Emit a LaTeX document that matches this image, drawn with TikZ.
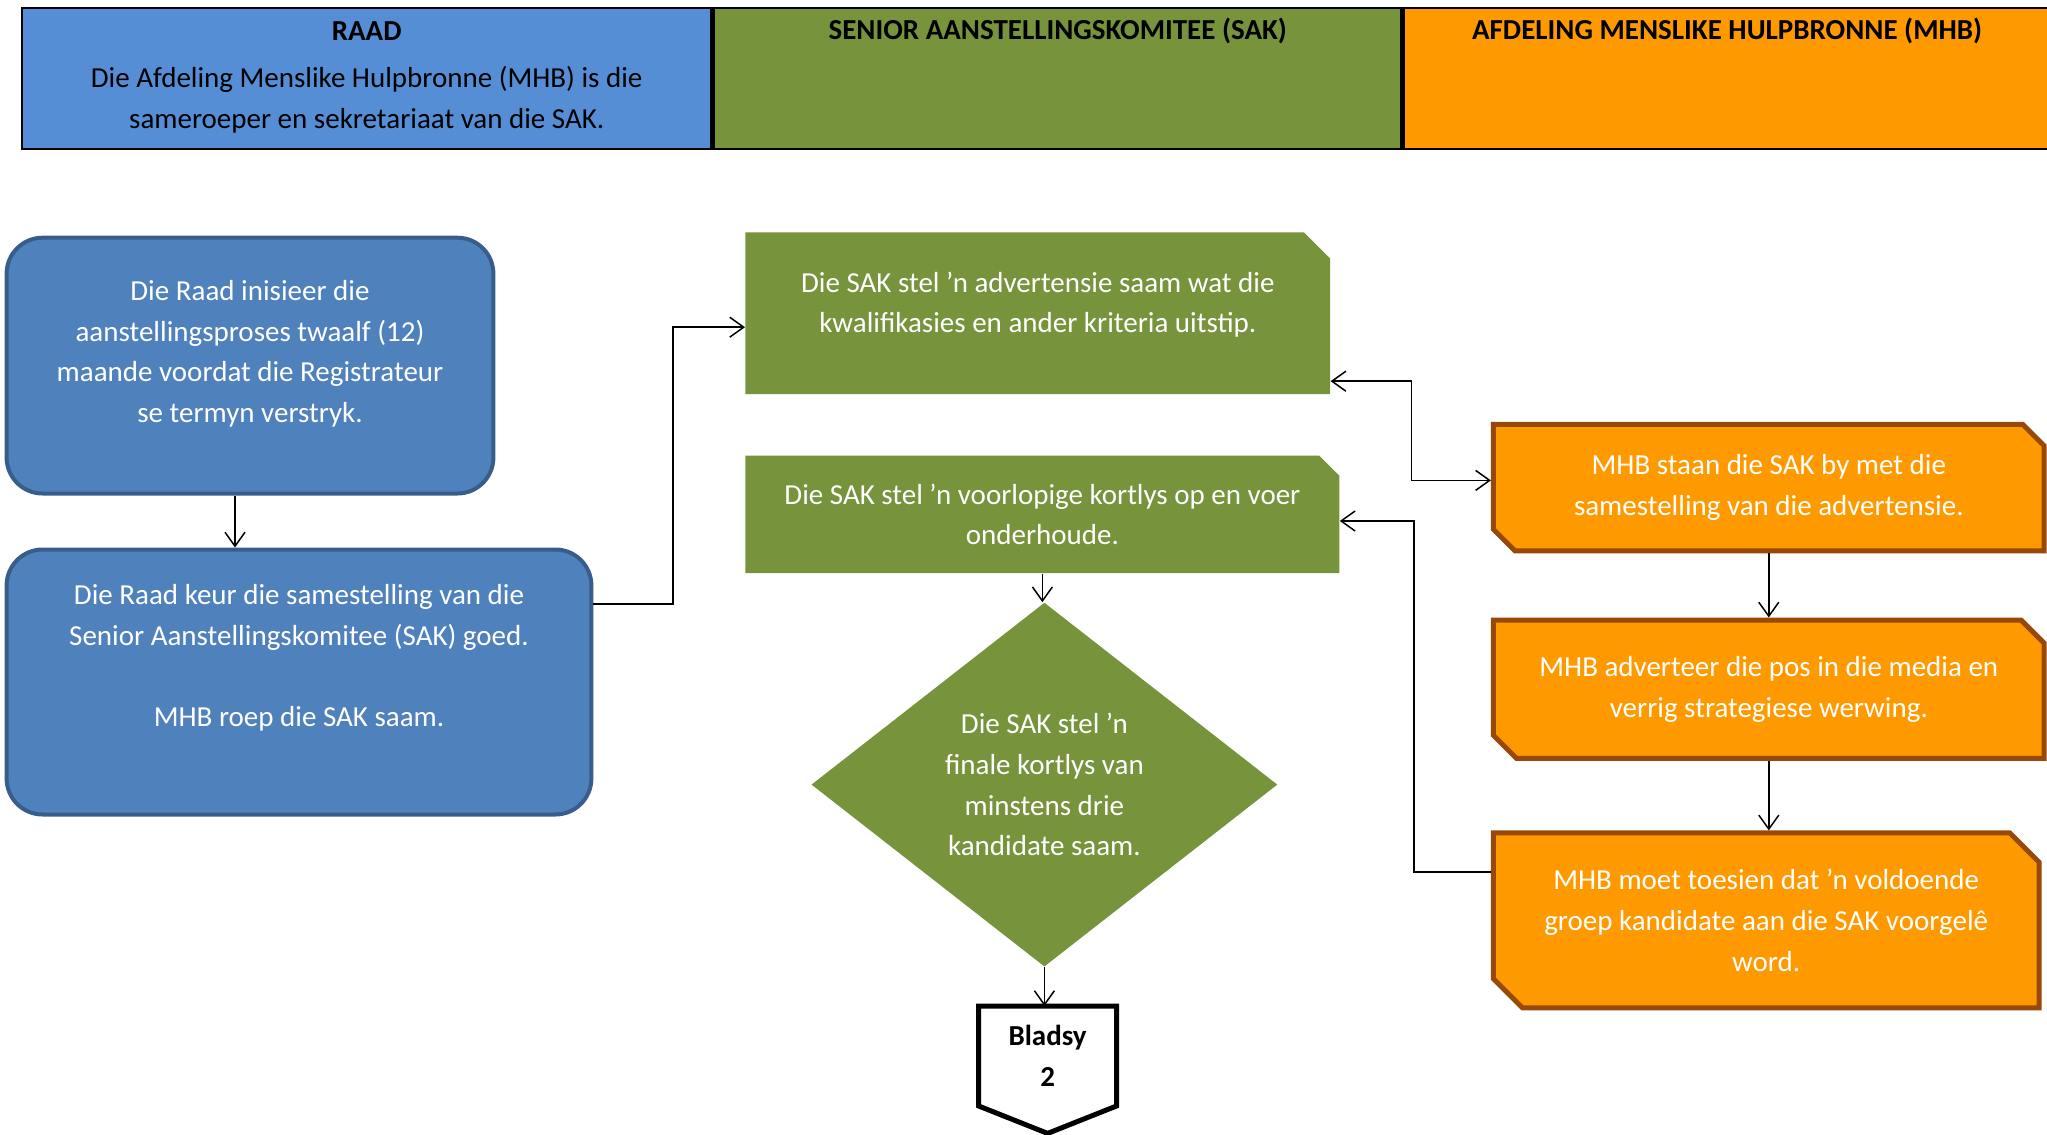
\documentclass[tikz,border=0pt]{standalone}
\usepackage{fontspec}
\setmainfont{Carlito}
\usetikzlibrary{shapes.misc,shapes.geometric,arrows.meta,positioning,calc}
\definecolor{hdblue}{HTML}{558ED5}
\definecolor{hdgreen}{HTML}{77933C}
\definecolor{hdorange}{HTML}{FF9900}
\definecolor{raadblue}{HTML}{4F81BD}
\definecolor{raadline}{HTML}{385D8A}
\definecolor{sakgreen}{HTML}{77933C}
\definecolor{mhborange}{HTML}{FF9900}
\definecolor{mhbline}{HTML}{984807}
\newcommand{\boxfont}{\fontsize{14.5}{20.3}\selectfont}
\tikzset{
    colhead/.style = {draw, line width=1.2pt, minimum height=70.5pt, inner sep=0pt, anchor=north west},
    hdtext/.style = {align=center, text=black, inner sep=0pt},
    raadbox/.style = {draw=raadline, fill=raadblue, line width=2pt,
        rounded corners=18pt, align=center, text=white, inner sep=0pt},
    sakbox/.style = {chamfered rectangle, chamfered rectangle corners=north east,
        fill=sakgreen, align=center, text=white, inner sep=0pt},
    mhbbox/.style = {chamfered rectangle, chamfered rectangle corners={north east,south west},
        draw=mhbline, fill=mhborange, line width=2.5pt, align=center, text=white, inner sep=0pt},
    besluit/.style = {diamond, aspect=1.28, fill=sakgreen, align=center, text=white, inner sep=0pt},
    bladsybox/.style = {rectangle, align=center, font=\boxfont\bfseries, inner sep=0pt},
    arrow/.style = {draw, line width=0.75pt, ->}
}
\begin{document}
\begin{tikzpicture}[x=1pt, y=1pt, every node/.style={font=\boxfont},
    >={Straight Barb[length=7pt,width=10pt]}]
    \useasboundingbox (0,0) rectangle (1023.5,-567.2);
    % header
    \node [colhead, fill=hdblue, minimum width=344.7pt] (hdraad) at (10.4,-3.3) {};
    \node [colhead, fill=hdgreen, minimum width=343.9pt] (hdsak) at (hdraad.north east) {};
    \node [colhead, fill=hdorange, minimum width=323.1pt] (hdmhb) at (hdsak.north east) {};
    \node [hdtext, font=\boxfont\bfseries] (raadtitle) at ([yshift=-12pt]hdraad.north) {RAAD};
    \node [hdtext] (raadtext) at ([yshift=-46.5pt]hdraad.north) {Die Afdeling Menslike Hulpbronne (MHB) is die\\sameroeper en sekretariaat van die SAK.};
    \node [hdtext, font=\boxfont\bfseries] (saktitle) at ([yshift=-12pt]hdsak.north) {SENIOR AANSTELLINGSKOMITEE (SAK)};
    \node [hdtext, font=\boxfont\bfseries] (mhbtitle) at ([yshift=-12pt]hdmhb.north) {AFDELING MENSLIKE HULPBRONNE (MHB)};

    % raad
    \node [raadbox, minimum width=243.4pt, minimum height=127.9pt] (raad1) at (125,-182.8)
        {Die Raad inisieer die\\aanstellingsproses twaalf (12)\\maande voordat die Registrateur\\se termyn verstryk.\\[-6pt]\mbox{}};
    \node [raadbox, minimum width=292.4pt, minimum height=132.5pt] (raad2) at (149.5,-341)
        {Die Raad keur die samestelling van die\\Senior Aanstellingskomitee (SAK) goed.\\[20.3pt]MHB roep die SAK saam.\\[6pt]\mbox{}};

    % sak
    \node [sakbox, minimum width=292.4pt, minimum height=80.9pt,
        chamfered rectangle xsep=6.8pt, chamfered rectangle ysep=6.4pt] (sak1) at (518.9,-156.6)
        {Die SAK stel ’n advertensie saam wat die\\kwalifikasies en ander kriteria uitstip.\\[-9.5pt]\mbox{}};
    \node [sakbox, minimum width=297pt, minimum height=58.7pt,
        chamfered rectangle xsep=5pt, chamfered rectangle ysep=5pt] (sak2) at (521.2,-257.2)
        {Die SAK stel ’n voorlopige kortlys op en voer\\onderhoude.};
    \node [besluit, minimum width=233pt, minimum height=182pt] (besluit) at (522.2,-392.3)
        {Die SAK stel ’n\\finale kortlys van\\minstens drie\\kandidate saam.};
    \node [bladsybox, minimum width=68.5pt, minimum height=49.6pt] (bladsy) at (523.8,-528) {Bladsy\\2};
    \draw [line width=2.5pt] (bladsy.north west) -- (bladsy.north east) -- (bladsy.south east)
        -- ($(bladsy.south)+(0,-13.7)$) -- (bladsy.south west) -- cycle;

    % mhb
    \node [mhbbox, minimum width=275.4pt, minimum height=63.3pt,
        chamfered rectangle xsep=5.4pt, chamfered rectangle ysep=5.4pt] (mhb1) at (884.4,-243.8)
        {MHB staan die SAK by met die\\samestelling van die advertensie.};
    \node [mhbbox, minimum width=275.4pt, minimum height=69.2pt,
        chamfered rectangle xsep=5.8pt, chamfered rectangle ysep=5.8pt] (mhb2) at (884.4,-344.6)
        {MHB adverteer die pos in die media en\\verrig strategiese werwing.};
    \node [mhbbox, minimum width=272.8pt, minimum height=87.5pt,
        chamfered rectangle xsep=7.3pt, chamfered rectangle ysep=7.3pt] (mhb3) at (883.1,-460.2)
        {MHB moet toesien dat ’n voldoende\\groep kandidate aan die SAK voorgelê\\word.};

    % connectors
    \draw [arrow] ([xshift=-7.5pt]raad1.south) -- ([xshift=-7.5pt]raad1.south |- raad2.north);
    \draw [arrow] ([yshift=38.9pt]raad2.east) -- ++(39.8,0) |- ([yshift=-7pt]sak1.west);
    \draw [arrow, <->] ([yshift=-34pt]sak1.east) -- ++(40.5,0) |- ([yshift=3.6pt]mhb1.west);
    \draw [arrow] (mhb1.south) -- (mhb2.north);
    \draw [arrow] (mhb2.south) -- (mhb2.south |- mhb3.north);
    \draw [arrow] ([yshift=24.2pt]mhb3.west) -- ++(-38.5,0) |- ([yshift=-3.3pt]sak2.east);
    \draw [arrow] (sak2.south) -- (sak2.south |- besluit.north);
    \draw [arrow] (besluit.south) -- (besluit.south |- bladsy.north);
\end{tikzpicture}
\end{document}
